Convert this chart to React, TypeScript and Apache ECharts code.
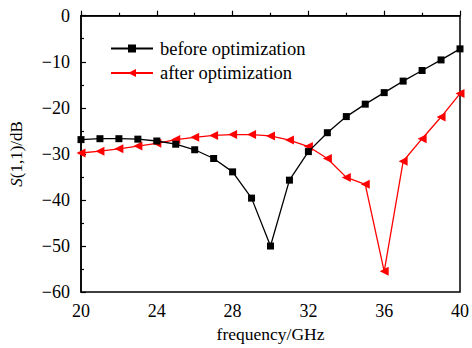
import React, { useEffect, useRef } from "react";
import * as echarts from "echarts";

const freqs = [20, 21, 22, 23, 24, 25, 26, 27, 28, 29, 30, 31, 32, 33, 34, 35, 36, 37, 38, 39, 40];
const before = [-26.9, -26.7, -26.7, -26.8, -27.2, -27.9, -29.1, -31.0, -33.9, -39.6, -50.0, -35.7, -29.5, -25.4, -21.9, -19.2, -16.7, -14.2, -11.9, -9.6, -7.2];
const after = [-29.8, -29.4, -28.9, -28.3, -27.7, -26.9, -26.4, -26.0, -25.8, -25.8, -26.1, -27.0, -28.4, -31.0, -35.1, -36.6, -55.5, -31.6, -26.7, -22.0, -16.9];
const seriesNames = ["before optimization", "after optimization"];

const FONT = "Liberation Serif";

export default function App() {
  const ref = useRef<HTMLDivElement>(null);
  useEffect(() => {
    const chart = echarts.init(ref.current!, null, { renderer: "svg" });
    const fmt = (v: number) => String(v).replace("-", "\u2212");
    chart.setOption({
      animation: false,
      backgroundColor: "#fff",
      textStyle: { fontFamily: FONT },
      grid: { left: 80.7, width: 383.6, top: 15.7, height: 282.3, show: true, borderColor: "#000", borderWidth: 1.5, backgroundColor: "transparent" },
      legend: {
        left: 110,
        top: 39,
        padding: 0,
        orient: "vertical",
        itemWidth: 42,
        itemHeight: 10,
        itemGap: 5.5,
        textStyle: { fontFamily: FONT, fontSize: 18.5, color: "#000", padding: [0, 0, 0, 2] },
        data: seriesNames,
      },
      xAxis: {
        type: "value",
        min: 20,
        max: 40,
        interval: 4,
        name: "frequency/GHz",
        nameLocation: "middle",
        nameGap: 32,
        nameTextStyle: { fontFamily: FONT, fontSize: 17.5, color: "#000" },
        axisLine: { lineStyle: { color: "#000", width: 1.5 } },
        axisTick: { inside: true, length: 5, lineStyle: { color: "#000", width: 1.2 } },
        minorTick: { show: true, splitNumber: 2, length: 3, lineStyle: { color: "#000", width: 1.2 } },
        splitLine: { show: false },
        axisLabel: { fontFamily: FONT, fontSize: 18, color: "#000", margin: 10 },
      },
      yAxis: {
        type: "value",
        min: -60,
        max: 0,
        interval: 10,
        name: "{i|S}(1,1)/dB",
        nameLocation: "middle",
        nameGap: 56,
        nameTextStyle: {
          fontFamily: FONT,
          fontSize: 17,
          color: "#000",
          rich: { i: { fontFamily: FONT, fontSize: 17, fontStyle: "italic", color: "#000" } },
        },
        axisLine: { lineStyle: { color: "#000", width: 1.5 } },
        axisTick: { inside: true, length: 5, lineStyle: { color: "#000", width: 1.2 } },
        minorTick: { show: true, splitNumber: 2, length: 3, lineStyle: { color: "#000", width: 1.2 } },
        splitLine: { show: false },
        axisLabel: { fontFamily: FONT, fontSize: 18, color: "#000", margin: 11, formatter: fmt },
      },
      series: [
        {
          name: seriesNames[0],
          type: "line",
          data: freqs.map((f, i) => [f, before[i]]),
          color: "#000",
          lineStyle: { color: "#000", width: 1.3 },
          symbol: "rect",
          symbolSize: 7,
          itemStyle: { color: "#000" },
          z: 3,
        },
        {
          name: seriesNames[1],
          type: "line",
          data: freqs.map((f, i) => [f, after[i]]),
          color: "#f00",
          lineStyle: { color: "#f00", width: 1.3 },
          symbol: "triangle",
          symbolSize: 9,
          symbolRotate: 90,
          itemStyle: { color: "#f00" },
          z: 2,
        },
      ],
    });
    return () => chart.dispose();
  }, []);
  return <div ref={ref} style={{ position: "fixed", left: 0, top: 0, width: 472, height: 348 }} />;
}
